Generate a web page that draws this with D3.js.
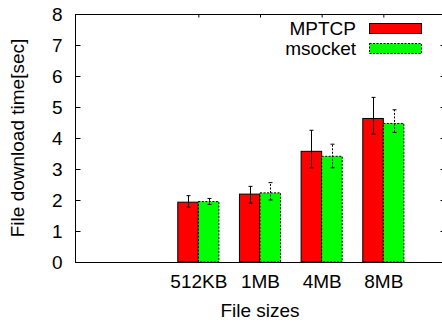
<!DOCTYPE html>
<html><head><meta charset="utf-8">
<script src="https://cdn.jsdelivr.net/npm/d3@7"></script>
<style>body{margin:0;background:#fff}svg{display:block}text{font-family:"Liberation Sans",Arial,sans-serif;fill:#000}</style>
</head><body>
<svg id="c" width="442" height="322"></svg>
<script>
const categories = ["512KB","1MB","4MB","8MB"];
const seriesNames = ["MPTCP","msocket"];
const mptcpMean = [1.93, 2.19, 3.57, 4.63];
const mptcpLow  = [1.77, 1.90, 3.04, 4.13];
const mptcpHigh = [2.14, 2.44, 4.25, 5.31];
const msocketMean = [1.95, 2.23, 3.41, 4.47];
const msocketLow  = [1.86, 2.00, 3.04, 4.18];
const msocketHigh = [2.05, 2.56, 3.80, 4.91];
const yTicks = [0,1,2,3,4,5,6,7,8];
const colors = ["#ff0000","#00ff00"];

(function(){
const FS = 19;
const svg = d3.select("#c");
const mL = 75, mR = 445, mT = 14, mB = 262;
// x domain in category-index units: categories sit at 0..3, axis from -2 to 4
const x = d3.scaleLinear().domain([-2, 4]).range([mL, mR]);
const y = d3.scaleLinear().domain([0, 8]).range([mB, mT]);
const step = x(1) - x(0);
const bw = step / 3;

const series = [
  {name: seriesNames[0], mean: mptcpMean, lo: mptcpLow, hi: mptcpHigh, dash: null, color: colors[0], off: -1},
  {name: seriesNames[1], mean: msocketMean, lo: msocketLow, hi: msocketHigh, dash: "2,1.5", color: colors[1], off: 0}
];

series.forEach(s => {
  const g = svg.append("g");
  g.selectAll("rect").data(categories).join("rect")
    .attr("x", (d,i) => x(i) + s.off * bw)
    .attr("y", (d,i) => y(s.mean[i]))
    .attr("width", bw)
    .attr("height", (d,i) => y(0) - y(s.mean[i]))
    .attr("fill", s.color)
    .attr("stroke", "#000").attr("stroke-width", 1)
    .attr("stroke-dasharray", s.dash);
});
series.forEach(s => {
  const g = svg.append("g").attr("stroke", "#000").attr("stroke-width", 1);
  categories.forEach((c, i) => {
    const cx = Math.round(x(i) + s.off * bw + bw / 2) + 0.5;
    g.append("line").attr("x1", cx).attr("x2", cx).attr("y1", y(s.lo[i])).attr("y2", y(s.hi[i])).attr("stroke-dasharray", s.dash);
    [s.lo[i], s.hi[i]].forEach(v => {
      g.append("line").attr("x1", cx - 2).attr("x2", cx + 2).attr("y1", y(v)).attr("y2", y(v));
    });
  });
});

svg.append("rect").attr("x", mL + 0.5).attr("y", mT + 0.5).attr("width", mR - mL).attr("height", mB - mT)
  .attr("fill", "none").attr("stroke", "#000");

const yAx = svg.append("g").attr("transform", `translate(${mL + 0.5},0)`)
  .call(d3.axisLeft(y).tickValues(yTicks).tickSize(-5).tickPadding(13).tickFormat(d3.format("d")));
yAx.select(".domain").remove();
yAx.selectAll("text").attr("font-size", FS).attr("font-family", "Liberation Sans, Arial, sans-serif");
const yAxR = svg.append("g").attr("transform", `translate(${mR + 0.5},0)`)
  .call(d3.axisRight(y).tickValues(yTicks).tickSize(-5).tickFormat(""));
yAxR.select(".domain").remove();

const xAx = svg.append("g").attr("transform", `translate(0,${mB + 0.5})`)
  .call(d3.axisBottom(x).tickValues(d3.range(categories.length)).tickSize(0).tickPadding(12).tickFormat(i => categories[i]));
xAx.select(".domain").remove();
xAx.selectAll("text").attr("font-size", FS).attr("font-family", "Liberation Sans, Arial, sans-serif");
const xAxT = svg.append("g").attr("transform", `translate(0,${mT + 0.5})`)
  .call(d3.axisTop(x).tickValues(d3.range(categories.length)).tickSize(-3).tickFormat(""));
xAxT.select(".domain").remove();

svg.append("text").attr("x", 260).attr("y", 317).attr("text-anchor", "middle")
  .attr("font-size", FS).text("File sizes");
svg.append("text").attr("transform", `translate(24,${(mT + mB) / 2}) rotate(-90)`)
  .attr("text-anchor", "middle").attr("font-size", FS).text("File download time[sec]");

series.forEach((s, k) => {
  const ly = 28 + k * 20;
  svg.append("text").attr("x", 356).attr("y", ly + 7).attr("text-anchor", "end").attr("font-size", FS).text(s.name);
  svg.append("rect").attr("x", 369.5).attr("y", ly - 4.5).attr("width", 52).attr("height", 10)
    .attr("fill", s.color).attr("stroke", "#000").attr("stroke-dasharray", s.dash);
});
})();
</script>
</body></html>
